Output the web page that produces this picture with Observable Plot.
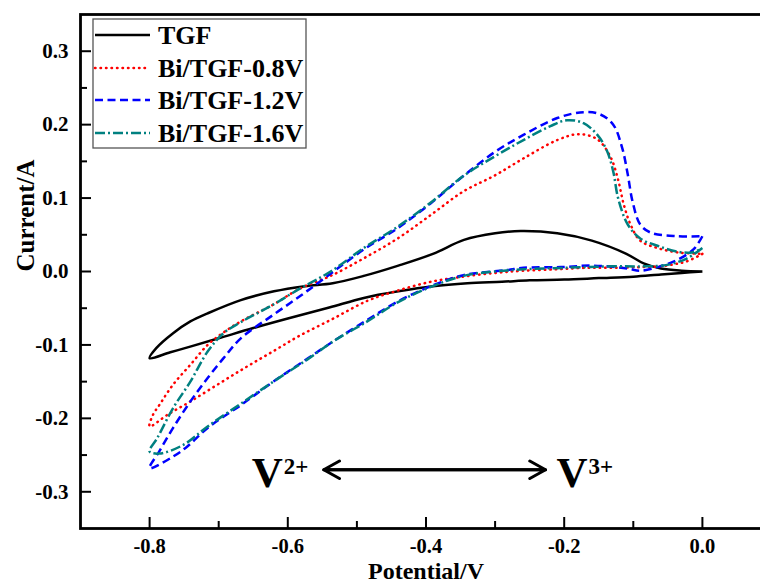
<!DOCTYPE html>
<html><head><meta charset="utf-8">
<script src="https://cdn.jsdelivr.net/npm/d3@7"></script>
<script src="https://cdn.jsdelivr.net/npm/@observablehq/plot@0.6"></script>
<style>
html,body{margin:0;padding:0;background:#fff;overflow:hidden;}
#wrap{position:relative;width:760px;height:583px;overflow:hidden;}
#legend{position:absolute;left:92px;top:18px;}
</style></head>
<body><div id="wrap"></div>
<script>
// ---- data (Potential / V, Current / A), each loop in scan order ----
const seriesNames = ["TGF", "Bi/TGF-0.8V", "Bi/TGF-1.2V", "Bi/TGF-1.6V"];
const seriesColors = ["#000000", "#ff0000", "#0000ff", "#008080"];
const seriesDash = [null, "0.5,5", "8,4.5", "10,3,2,3"];

const tgf = [
  [0,0],[-0.03,-0.002],[-0.06,-0.004],[-0.1,-0.007],[-0.15,-0.009],[-0.2,-0.011],[-0.25,-0.012],
  [-0.29,-0.014],[-0.34,-0.016],[-0.39,-0.020],[-0.44,-0.027],[-0.49,-0.036],[-0.54,-0.049],
  [-0.6,-0.064],[-0.65,-0.077],[-0.7,-0.091],[-0.74,-0.102],[-0.77,-0.110],[-0.8,-0.118],
  [-0.79,-0.104],[-0.766,-0.084],[-0.741,-0.068],[-0.716,-0.057],[-0.668,-0.039],[-0.62,-0.027],
  [-0.575,-0.020],[-0.535,-0.016],[-0.49,-0.006],[-0.44,0.008],[-0.39,0.024],[-0.345,0.043],
  [-0.30,0.052],[-0.263,0.055],[-0.21,0.052],[-0.16,0.042],[-0.11,0.024],[-0.085,0.011],
  [-0.06,0.004],[-0.03,0.001],[0,0]
];
const bi08 = [
  [0,0.024],[-0.022,0.014],[-0.04,0.010],[-0.061,0.007],[-0.09,0.006],[-0.13,0.005],[-0.17,0.005],
  [-0.21,0.003],[-0.26,0.001],[-0.3,-0.002],[-0.346,-0.007],[-0.393,-0.014],[-0.441,-0.026],
  [-0.485,-0.040],[-0.534,-0.064],[-0.582,-0.087],[-0.62,-0.108],[-0.66,-0.130],[-0.7,-0.153],
  [-0.741,-0.177],[-0.774,-0.195],[-0.8,-0.211],
  [-0.795,-0.195],[-0.786,-0.182],[-0.766,-0.154],[-0.741,-0.127],[-0.716,-0.100],[-0.693,-0.083],
  [-0.668,-0.068],[-0.621,-0.045],[-0.582,-0.023],[-0.538,-0.006],[-0.49,0.018],[-0.441,0.045],
  [-0.393,0.077],[-0.346,0.109],[-0.3,0.131],[-0.259,0.154],[-0.21,0.179],[-0.179,0.187],
  [-0.152,0.180],[-0.133,0.156],[-0.122,0.125],[-0.114,0.092],[-0.104,0.064],[-0.09,0.042],
  [-0.065,0.032],[-0.036,0.026],[0,0.024]
];
const bi12 = [
  [0,0.048],[-0.013,0.030],[-0.036,0.016],[-0.061,0.007],[-0.09,0.001],[-0.108,0.004],[-0.158,0.008],
  [-0.205,0.006],[-0.259,0.005],[-0.282,0.002],[-0.346,-0.005],[-0.393,-0.020],[-0.441,-0.041],
  [-0.485,-0.066],[-0.534,-0.095],[-0.572,-0.119],[-0.621,-0.150],[-0.668,-0.182],[-0.716,-0.213],
  [-0.745,-0.238],[-0.766,-0.252],[-0.8,-0.268],
  [-0.786,-0.245],[-0.766,-0.213],[-0.741,-0.177],[-0.716,-0.145],[-0.693,-0.118],[-0.668,-0.091],
  [-0.621,-0.059],[-0.58,-0.032],[-0.538,-0.003],[-0.49,0.030],[-0.441,0.059],[-0.393,0.093],
  [-0.346,0.130],[-0.3,0.163],[-0.259,0.186],[-0.21,0.209],[-0.172,0.217],[-0.148,0.214],
  [-0.129,0.200],[-0.116,0.168],[-0.108,0.132],[-0.101,0.095],[-0.09,0.064],[-0.075,0.053],
  [-0.036,0.048],[0,0.048]
];
const bi16 = [
  [0,0.032],[-0.022,0.018],[-0.051,0.009],[-0.085,0.007],[-0.13,0.007],[-0.2,0.005],[-0.259,0.003],
  [-0.3,0.0],[-0.346,-0.006],[-0.393,-0.021],[-0.441,-0.042],[-0.485,-0.068],[-0.534,-0.095],
  [-0.572,-0.120],[-0.621,-0.150],[-0.668,-0.180],[-0.716,-0.211],[-0.751,-0.236],[-0.786,-0.248],
  [-0.8,-0.245],
  [-0.789,-0.227],[-0.766,-0.186],[-0.741,-0.150],[-0.716,-0.109],[-0.693,-0.084],[-0.668,-0.069],
  [-0.621,-0.045],[-0.582,-0.023],[-0.538,0.000],[-0.49,0.032],[-0.441,0.061],[-0.393,0.094],
  [-0.346,0.130],[-0.3,0.157],[-0.259,0.179],[-0.22,0.198],[-0.196,0.206],[-0.172,0.202],
  [-0.152,0.186],[-0.138,0.164],[-0.129,0.136],[-0.122,0.100],[-0.108,0.064],[-0.09,0.045],
  [-0.065,0.035],[-0.036,0.027],[-0.015,0.026],[0,0.032]
];
const allSeries = [tgf, bi08, bi12, bi16];

const xTicks = [-0.8, -0.6, -0.4, -0.2, 0.0];
const xMinorTicks = [-0.7, -0.5, -0.3, -0.1];
const yTicks = [-0.3, -0.2, -0.1, 0.0, 0.1, 0.2, 0.3];
const yMinorTicks = [-0.25, -0.15, -0.05, 0.05, 0.15, 0.25];

const xLabel = "Potential/V";
const yLabel = "Current/A";

// annotation: V2+ <-> V3+
const ionLabels = [
  {x: -0.652, y: -0.294, base: "V", sup: "2+"},
  {x: -0.211, y: -0.294, base: "V", sup: "3+"}
];
const arrowSpec = [{xa: -0.548, xb: -0.227, y: -0.27}];

const fmt = d => (Math.abs(d) < 1e-9 ? 0 : d).toFixed(1);
const font = '"Liberation Serif", "Times New Roman", serif';

const lineMarks = allSeries.map((s, i) =>
  Plot.line(s, {
    x: d => d[0], y: d => d[1],
    stroke: seriesColors[i],
    strokeWidth: 2.5,
    strokeDasharray: seriesDash[i] || undefined,
    strokeLinecap: i === 1 ? "round" : "butt",
    curve: "catmull-rom"
  })
);

const plot = Plot.plot({
  width: 760, height: 583,
  marginLeft: 80, marginRight: -11, marginTop: 14, marginBottom: 55,
  x: {domain: [-0.9, 0.1]},
  y: {domain: [-0.35, 0.35]},
  style: {fontFamily: font, fontWeight: "bold", fontSize: "21px", background: "#fff", color: "#000"},
  marks: [
    // tick labels
    Plot.axisY(yTicks, {tickSize: 0, tickPadding: 12, tickFormat: fmt, label: null, fontSize: 21}),
    Plot.axisX(xTicks, {tickSize: 0, tickPadding: 10, tickFormat: fmt, label: null, fontSize: 20.5}),
    // inward ticks
    Plot.axisY(yTicks, {tickSize: -11, tickFormat: () => "", label: null, strokeWidth: 2}),
    Plot.axisY(yMinorTicks, {tickSize: -7, tickFormat: () => "", label: null, strokeWidth: 2}),
    Plot.axisX(xTicks, {tickSize: -11, tickFormat: () => "", label: null, strokeWidth: 2}),
    Plot.axisX(xMinorTicks, {tickSize: -7, tickFormat: () => "", label: null, strokeWidth: 2}),
    ...lineMarks,
    Plot.arrow(arrowSpec, {x1: "xa", y1: "y", x2: "xb", y2: "y", stroke: "#000", strokeWidth: 3, headLength: 9, headAngle: 58}),
    Plot.arrow(arrowSpec, {x1: "xb", y1: "y", x2: "xa", y2: "y", stroke: "#000", strokeWidth: 3, headLength: 9, headAngle: 58}),
    Plot.text(ionLabels, {x: "x", y: "y", text: "base", fontSize: 43, textAnchor: "start", lineAnchor: "bottom"}),
    Plot.text(ionLabels, {x: "x", y: "y", text: "sup", fontSize: 23, textAnchor: "start", lineAnchor: "bottom", dx: 32, dy: -13}),
    Plot.text([xLabel], {text: d => d, frameAnchor: "bottom", dy: 42.5, fontSize: 24, lineAnchor: "middle"}),
    Plot.text([yLabel], {text: d => d, frameAnchor: "left", dx: -55, rotate: -90, fontSize: 25, lineAnchor: "middle"}),
    Plot.frame({stroke: "#000", strokeWidth: 2.8})
  ]
});
plot.style.overflow = "hidden";
const wrap = document.getElementById("wrap");
wrap.appendChild(plot);

// legend (inside the plot area, top-left)
const ns = "http://www.w3.org/2000/svg";
const lg = document.createElementNS(ns, "svg");
lg.setAttribute("id", "legend");
lg.setAttribute("width", 216);
lg.setAttribute("height", 132);
const rect = document.createElementNS(ns, "rect");
rect.setAttribute("x", 1); rect.setAttribute("y", 1);
rect.setAttribute("width", 213); rect.setAttribute("height", 129);
rect.setAttribute("fill", "#fff"); rect.setAttribute("stroke", "#555"); rect.setAttribute("stroke-width", 1.3);
lg.appendChild(rect);
const rowY = [17, 50, 82, 115];
seriesNames.forEach((name, i) => {
  const ln = document.createElementNS(ns, "line");
  ln.setAttribute("x1", 3); ln.setAttribute("x2", 58);
  ln.setAttribute("y1", rowY[i]); ln.setAttribute("y2", rowY[i]);
  ln.setAttribute("stroke", seriesColors[i]); ln.setAttribute("stroke-width", 2.5);
  if (seriesDash[i]) ln.setAttribute("stroke-dasharray", seriesDash[i]);
  if (i === 1) ln.setAttribute("stroke-linecap", "round");
  lg.appendChild(ln);
  const t = document.createElementNS(ns, "text");
  t.setAttribute("x", 66); t.setAttribute("y", rowY[i] + 9);
  t.setAttribute("font-family", font); t.setAttribute("font-weight", "bold");
  t.setAttribute("font-size", 26); t.setAttribute("fill", "#000");
  t.textContent = name;
  lg.appendChild(t);
});
wrap.appendChild(lg);
</script></body></html>
